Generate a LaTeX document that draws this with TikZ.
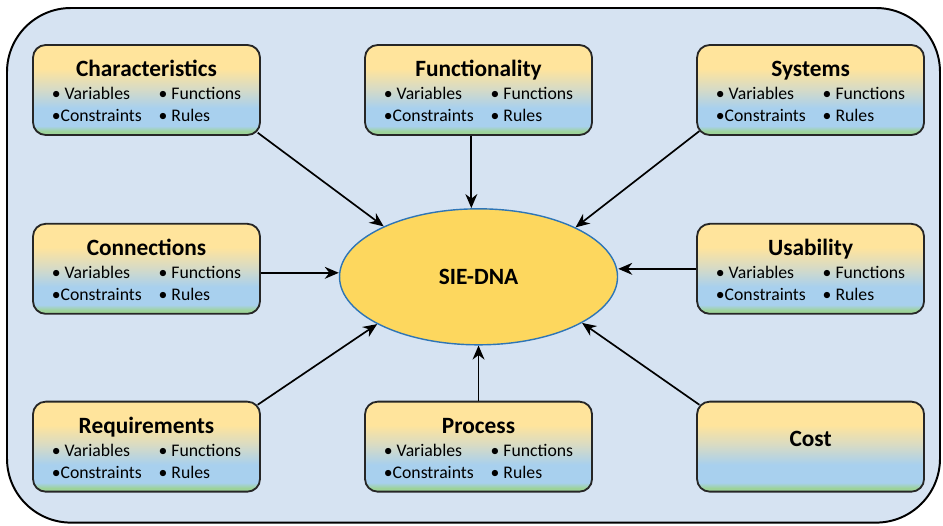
\documentclass[tikz,border=0pt]{standalone}
\usepackage{fontspec}
\setmainfont{Carlito}
\usetikzlibrary{arrows.meta, positioning, shapes.geometric}

\definecolor{panelblue}{HTML}{D6E3F2}
\definecolor{boxyellow}{HTML}{FFE49C}
\definecolor{boxtan}{HTML}{D8DBC4}
\definecolor{boxblue}{HTML}{A8D0EE}
\definecolor{boxgreen}{HTML}{9DD39A}
\definecolor{dnagold}{HTML}{FDD75E}
\definecolor{dnaedge}{HTML}{2E75B6}

\pgfdeclareverticalshading{topicshade}{100bp}{color(0bp)=(boxgreen); color(25bp)=(boxgreen); color(27bp)=(boxgreen); color(30bp)=(boxblue); color(40bp)=(boxblue); color(51bp)=(boxtan); color(62bp)=(boxyellow); color(100bp)=(boxyellow)}

\newcommand{\topictitle}[1]{{\fontsize{16.6}{18}\selectfont\bfseries\rule[-5pt]{0pt}{23pt}#1}}
\newcommand{\featlist}{{\fontsize{12.6}{15.8}\selectfont
  \begin{tabular}{@{}l@{\hspace{12pt}}l@{}}
  \textbullet{} Variables & \textbullet{} Functions\\
  \textbullet Constraints & \textbullet{} Rules
  \end{tabular}}}

\begin{document}
\begin{tikzpicture}[>={Stealth[length=10pt, width=8.5pt]}, node distance=2.175cm and 2.58cm,
  topic/.style={draw=black!85, line width=1.3pt, rounded corners=9pt, shading=topicshade,
    minimum width=5.675cm, minimum height=2.25cm, align=center, inner sep=0pt},
  core/.style={ellipse, draw=dnaedge, line width=1pt, fill=dnagold, minimum width=6.95cm,
    minimum height=3.4cm, font=\fontsize{16.6}{18}\selectfont\bfseries},
  link/.style={->, line width=1.2pt}]

  \path[use as bounding box] (0,0) rectangle (23.575,13.125);
  \draw[line width=1.4pt, fill=panelblue, rounded corners=1.6cm] (0.175,0.06) rectangle (23.5,12.925);

  % top row
  \node [topic] (char) at (3.6625,10.875) {\topictitle{Characteristics}\\[-1pt] \featlist};
  \node [topic, right=of char] (func) {\topictitle{Functionality}\\[-1pt] \featlist};
  \node [topic, right=of func] (sys) {\topictitle{Systems}\\[-1pt] \featlist};

  % middle row
  \node [topic, below=of char] (conn) {\topictitle{Connections}\\[-1pt] \featlist};
  \node [topic, below=of sys] (usab) {\topictitle{Usability}\\[-1pt] \featlist};
  \node [core] (dna) at ([yshift=-0.2cm]func |- conn) {SIE-DNA};

  % bottom row
  \node [topic, below=2.15cm of conn] (req) {\topictitle{Requirements}\\[-1pt] \featlist};
  \node [topic, right=of req] (proc) {\topictitle{Process}\\[-1pt] \featlist};
  \node [topic, right=of proc] (cost) {\fontsize{16.6}{18}\selectfont\bfseries\rule[-10.5pt]{0pt}{18pt}Cost};

  \draw [link] ([shift={(-0.08cm,0.08cm)}]char.south east) -- (dna.152);
  \draw [link] ([xshift=-0.18cm]func.south) -- ([xshift=-0.18cm]dna.north);
  \draw [link] ([shift={(0.08cm,0.12cm)}]sys.south west) -- (dna.27);
  \draw [link] ([yshift=-0.1cm]conn.east) -- ([yshift=-0.1cm]conn.east -| dna.west);
  \draw [link] (usab.west) -- (usab.west -| dna.east);
  \draw [link] ([shift={(-0.08cm,-0.1cm)}]req.north east) -- (dna.205);
  \draw [link] (proc.north) -- (dna.south);
  \draw [link] ([shift={(0.08cm,-0.1cm)}]cost.north west) -- (dna.336);

\end{tikzpicture}
\end{document}
